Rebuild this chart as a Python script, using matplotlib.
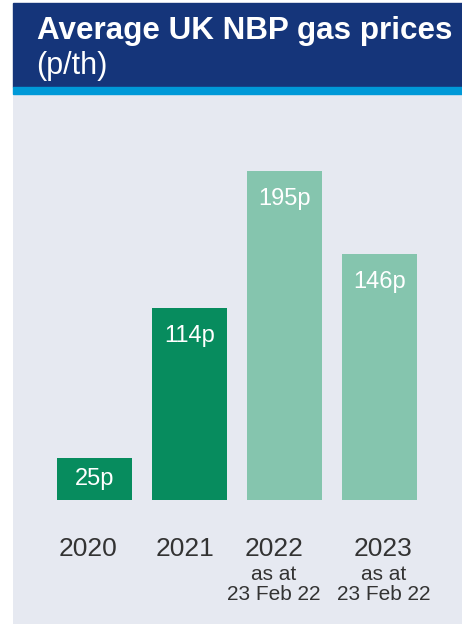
import matplotlib
matplotlib.use("Agg")
import matplotlib.pyplot as plt
from matplotlib.patches import Rectangle

# average NBP gas price per year, pence per therm
years = ['2020', '2021', '2022', '2023']
notes = ['', '', 'as at\n23 Feb 22', 'as at\n23 Feb 22']
prices = [25, 114, 195, 146]
colours = ['#078c5e', '#078c5e', '#85c5ae', '#85c5ae']

W, H = 462, 625
fig = plt.figure(figsize=(W / 100, H / 100), dpi=100)
plt.rcParams['font.family'] = ['Liberation Sans', 'DejaVu Sans']

# navy header band with the blue stripe under it
fig.patches.append(Rectangle((13 / W, 1 - 87 / H), 1 - 13 / W, 84 / H,
                             transform=fig.transFigure, color='#15357a', zorder=0))
fig.patches.append(Rectangle((13 / W, 1 - 94 / H), 1 - 13 / W, 7 / H,
                             transform=fig.transFigure, color='#0099d8', zorder=0))
fig.text(37 / W, 1 - 39 / H, 'Average UK NBP gas prices', color='white',
         fontsize=22.6, fontweight='bold', va='baseline', ha='left')
fig.text(36 / W, 1 - 74 / H, '(p/th)', color='white',
         fontsize=22, va='baseline', ha='left')

# plot area: grey panel below the header
ax = fig.add_axes([13 / W, 1 / H, 1 - 13 / W, (624 - 94) / H])
ax.set_facecolor('#e6e9f1')
x = list(range(len(years)))
ax.bar(x, prices, width=75 / 95, color=colours, zorder=2)
ax.set_xlim(-(94.5 - 13) / 95, 3 + (462 - 379.5) / 95)
ax.set_ylim(-(624 - 500) / 1.685, (500 - 94) / 1.685)
for s in ax.spines.values():
    s.set_visible(False)
ax.set_xticks([])
ax.set_yticks([])

# value labels inside the top of each bar (short bar gets it centred)
for xi, p in zip(x, prices):
    if p < 40:
        ax.text(xi, p / 2, f'{p}p', ha='center', va='center',
                color='white', fontsize=17)
    else:
        ax.annotate(f'{p}p', (xi, p), xytext=(0, -20), textcoords='offset points',
                    ha='center', va='center', color='white', fontsize=17)

# year labels under the bars
label_shift = [-0.07, -0.05, -0.11, 0.04]
for xi, yr, note, dx in zip(x, years, notes, label_shift):
    ax.text(xi + dx, -22, yr, ha='center', va='top', color='#333333', fontsize=19)
    if note:
        ax.text(xi + dx, -38.5, note, ha='center', va='top', color='#333333',
                fontsize=15, linespacing=1.05)

fig.savefig('out.png', dpi=100)
